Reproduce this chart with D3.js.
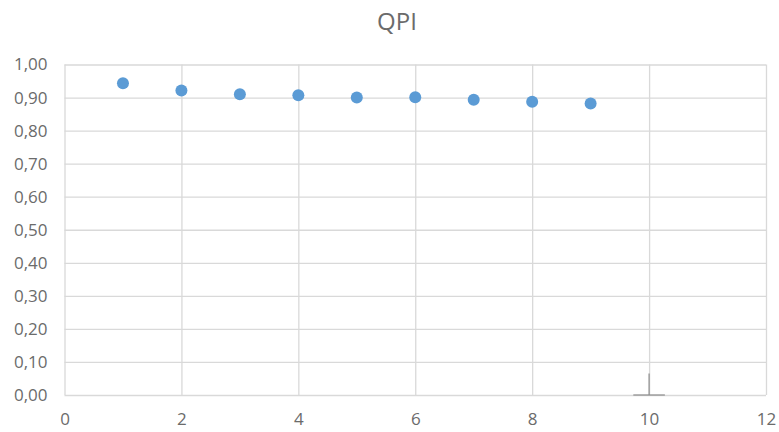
<!DOCTYPE html>
<html><head><meta charset="utf-8">
<script src="https://cdn.jsdelivr.net/npm/d3@7"></script>
<style>body{margin:0;background:#fff}svg{display:block}</style>
</head><body>
<script>
const xValues = [1, 2, 3, 4, 5, 6, 7, 8, 9];
const qpiValues = [0.943, 0.921, 0.910, 0.907, 0.900, 0.901, 0.893, 0.887, 0.882];
const xTicks = [0, 2, 4, 6, 8, 10, 12];
const yTicks = [0, 0.1, 0.2, 0.3, 0.4, 0.5, 0.6, 0.7, 0.8, 0.9, 1.0];
const stray = {x: 10, y: 0, up: 0.065, half: 0.27};
const title = "QPI";

const W = 779, H = 432;
const svg = d3.select("body").append("svg").attr("width", W).attr("height", H);
const x = d3.scaleLinear().domain([0, 12]).range([64.5, 766]);
const y = d3.scaleLinear().domain([0, 1]).range([395, 64.5]);
const font = "'Open Sans', 'Liberation Sans', sans-serif";
const fmt = v => d3.format(".2f")(v).replace(".", ",");

svg.append("text").attr("x", 397).attr("y", 30).attr("text-anchor", "middle")
  .attr("font-family", font).attr("font-size", 24).attr("fill", "#6b6b6b").text(title);

const yAxis = d3.axisLeft(y).tickValues(yTicks).tickFormat(fmt).tickSize(-(766 - 64.5)).tickPadding(17);
const gy = svg.append("g").attr("transform", "translate(64.5,0)").call(yAxis);
gy.select(".domain").remove();
gy.selectAll(".tick line").attr("stroke", "#d9d9d9").attr("stroke-width", 1.3);
gy.selectAll(".tick text").attr("font-family", font).attr("font-size", 17).attr("fill", "#6b6b6b");

const xAxis = d3.axisBottom(x).tickValues(xTicks).tickFormat(d3.format("d")).tickSize(-(395 - 64.5)).tickPadding(18);
const gx = svg.append("g").attr("transform", "translate(0,395)").call(xAxis);
gx.select(".domain").remove();
gx.selectAll(".tick line").attr("stroke", "#d9d9d9").attr("stroke-width", 1.3);
gx.selectAll(".tick text").attr("font-family", font).attr("font-size", 17).attr("fill", "#6b6b6b");

// stray mark near x=10
svg.append("line").attr("x1", x(stray.x)).attr("x2", x(stray.x))
  .attr("y1", y(stray.y)).attr("y2", y(stray.up)).attr("stroke", "#8c8c8c").attr("stroke-width", 1.2);
svg.append("line").attr("x1", x(stray.x - stray.half)).attr("x2", x(stray.x + stray.half))
  .attr("y1", y(stray.y)).attr("y2", y(stray.y)).attr("stroke", "#8c8c8c").attr("stroke-width", 1.2);

svg.append("g").selectAll("circle").data(xValues.map((d, i) => [d, qpiValues[i]])).join("circle")
  .attr("cx", d => x(d[0])).attr("cy", d => y(d[1])).attr("r", 6).attr("fill", "#5b9bd5");
</script>
</body></html>
